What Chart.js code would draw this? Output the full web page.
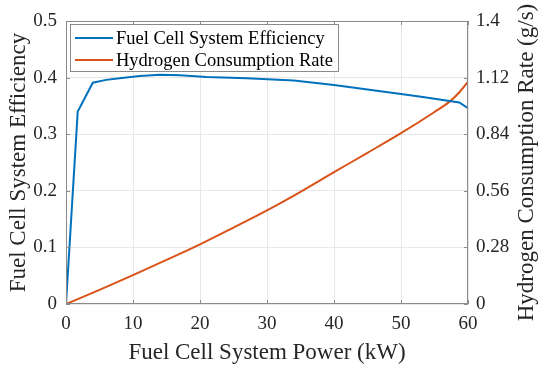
<!DOCTYPE html>
<html>
<head>
<meta charset="utf-8">
<script src="https://cdn.jsdelivr.net/npm/chart.js@4"></script>
<style>
html,body{margin:0;padding:0;background:#fff;}
#wrap{width:550px;height:373px;position:relative;}
</style>
</head>
<body>
<div id="wrap"><canvas id="c" width="550" height="373"></canvas></div>
<script>
// Data
const powerEff = [0, 1.75, 4, 6, 8, 11, 14, 17, 21, 27, 34, 40, 45, 50, 53, 56, 58.7, 60];
const efficiency = [0, 0.34, 0.391, 0.396, 0.399, 0.403, 0.405, 0.404, 0.401, 0.399, 0.395, 0.387, 0.379, 0.371, 0.366, 0.361, 0.356, 0.346];
const powerH2 = [0, 5, 10, 15, 20, 25, 30, 35, 40, 45, 50, 55, 57.2, 58.5, 60];
const hydrogen = [0, 0.07, 0.143, 0.218, 0.295, 0.378, 0.463, 0.555, 0.652, 0.748, 0.845, 0.95, 1.0, 1.04, 1.10];
const xTicks = [0, 10, 20, 30, 40, 50, 60];
const leftTicks = [0, 0.1, 0.2, 0.3, 0.4, 0.5];
const rightTicks = [0, 0.28, 0.56, 0.84, 1.12, 1.4];
const seriesNames = ['Fuel Cell System Efficiency', 'Hydrogen Consumption Rate'];
const xTitle = 'Fuel Cell System Power (kW)';
const leftTitle = 'Fuel Cell System Efficiency';
const rightTitle = 'Hydrogen Consumption Rate (g/s)';

const FONT = "'Liberation Serif', 'Times New Roman', serif";
const BLUE = '#0072BD', ORANGE = '#D95319';
const TXT = '#262626';

const boxPlugin = {
  id: 'boxPlugin',
  afterDatasetsDraw(chart) {
    const {ctx, chartArea: a, scales} = chart;
    ctx.save();
    ctx.strokeStyle = '#8a8a8a';
    ctx.lineWidth = 1;
    ctx.strokeRect(a.left + 0.5, a.top + 0.5, a.right - a.left - 1, a.bottom - a.top - 1);
    const L = 4;
    ctx.beginPath();
    scales.x.ticks.forEach(t => {
      const px = Math.round(scales.x.getPixelForValue(t.value)) + 0.5;
      ctx.moveTo(px, a.bottom); ctx.lineTo(px, a.bottom - L);
      ctx.moveTo(px, a.top); ctx.lineTo(px, a.top + L);
    });
    scales.y.ticks.forEach(t => {
      const py = Math.round(scales.y.getPixelForValue(t.value)) + 0.5;
      ctx.moveTo(a.left, py); ctx.lineTo(a.left + L, py);
    });
    scales.y2.ticks.forEach(t => {
      const py = Math.round(scales.y2.getPixelForValue(t.value)) + 0.5;
      ctx.moveTo(a.right, py); ctx.lineTo(a.right - L, py);
    });
    ctx.stroke();

    // legend box
    const lx = a.left + 4, ly = a.top + 3, lw = 268, lh = 47;
    ctx.fillStyle = '#fff';
    ctx.fillRect(lx, ly, lw, lh);
    ctx.strokeStyle = '#8a8a8a';
    ctx.strokeRect(lx + 0.5, ly + 0.5, lw, lh);
    ctx.font = '18.5px ' + FONT;
    ctx.textBaseline = 'middle';
    chart.data.datasets.forEach((ds, i) => {
      const yy = ly + 14 + i * 22;
      ctx.strokeStyle = ds.borderColor;
      ctx.lineWidth = 2;
      ctx.beginPath();
      ctx.moveTo(lx + 5, yy); ctx.lineTo(lx + 43, yy);
      ctx.stroke();
      ctx.fillStyle = '#000';
      ctx.fillText(ds.label, lx + 46, yy + 1);
    });

    // right axis title, reading bottom-to-top like MATLAB
    ctx.save();
    ctx.translate(527, (a.top + a.bottom) / 2);
    ctx.rotate(-Math.PI / 2);
    ctx.font = '23px ' + FONT;
    ctx.fillStyle = TXT;
    ctx.textAlign = 'center';
    ctx.textBaseline = 'middle';
    ctx.fillText(rightTitle, 0, 0);
    ctx.restore();
    ctx.restore();
  }
};

new Chart(document.getElementById('c'), {
  type: 'line',
  data: {
    datasets: [
      {label: seriesNames[0], data: powerEff.map((p, i) => ({x: p, y: efficiency[i]})),
       borderColor: BLUE, backgroundColor: BLUE, borderWidth: 2, pointRadius: 0, tension: 0, yAxisID: 'y'},
      {label: seriesNames[1], data: powerH2.map((p, i) => ({x: p, y: hydrogen[i]})),
       borderColor: ORANGE, backgroundColor: ORANGE, borderWidth: 2, pointRadius: 0, cubicInterpolationMode: 'monotone', yAxisID: 'y2'}
    ]
  },
  options: {
    responsive: false,
    animation: false,
    layout: {padding: {top: 21, left: 0, right: 0, bottom: 0}},
    plugins: {legend: {display: false}, tooltip: {enabled: false}},
    scales: {
      x: {
        type: 'linear', min: 0, max: 60,
        afterBuildTicks: s => { s.ticks = xTicks.map(v => ({value: v})); },
        afterFit: s => { s.height = 69; },
        grid: {color: '#e8e8e8', drawTicks: false},
        border: {display: false},
        ticks: {font: {family: FONT, size: 19}, color: TXT, padding: 9, maxRotation: 0},
        title: {display: true, text: xTitle, font: {family: FONT, size: 23}, color: TXT, padding: {top: 0, bottom: 6}}
      },
      y: {
        position: 'left', min: 0, max: 0.5,
        afterBuildTicks: s => { s.ticks = leftTicks.map(v => ({value: v})); },
        afterFit: s => { s.width = 66; },
        grid: {color: '#e8e8e8', drawTicks: false},
        border: {display: false},
        ticks: {font: {family: FONT, size: 19}, color: TXT, padding: 9, callback: v => String(v)},
        title: {display: true, text: leftTitle, font: {family: FONT, size: 23}, color: TXT, padding: {top: 5, bottom: 0}}
      },
      y2: {
        position: 'right', min: 0, max: 1.4,
        afterBuildTicks: s => { s.ticks = rightTicks.map(v => ({value: v})); },
        afterFit: s => { s.width = 82; },
        grid: {display: false, drawTicks: false},
        border: {display: false},
        ticks: {font: {family: FONT, size: 19}, color: TXT, padding: 8, callback: v => String(v)},
        title: {display: false}
      }
    }
  },
  plugins: [boxPlugin]
});
</script>
</body>
</html>
